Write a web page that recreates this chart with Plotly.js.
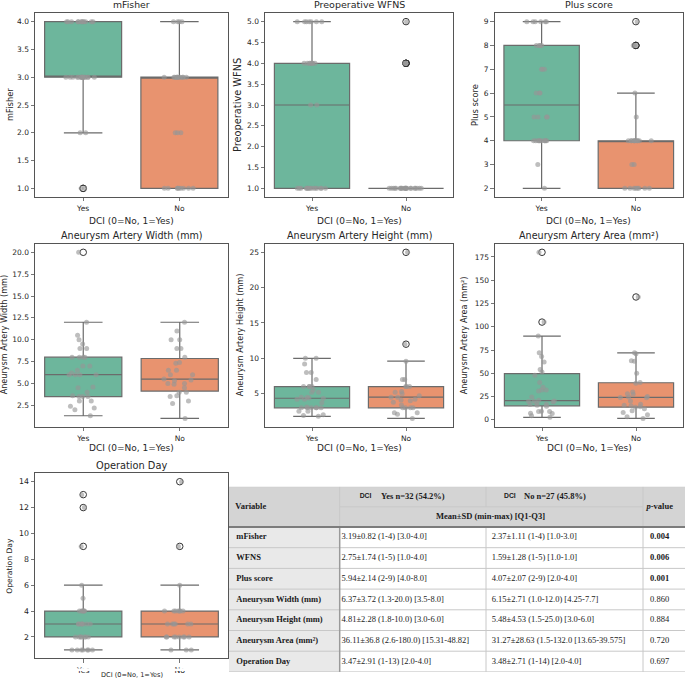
<!DOCTYPE html>
<html>
<head>
<meta charset="utf-8">
<script src="https://cdn.plot.ly/plotly-3.0.1.min.js"></script>
<style>
  html, body { margin: 0; padding: 0; background: #fff; }
  #chart { width: 685px; height: 681px; }
</style>
</head>
<body>
<div id="chart"></div>
<script>
// ---- DCI groups -------------------------------------------------------
const groups = ["Yes", "No"];
const xLabel = "DCI (0=No, 1=Yes)";

// ---- per-patient values, DCI = Yes (n=32) and DCI = No (n=27) --------
const mFisherYes = [4,4,4,4,4,4,4,4,4,4,4,4,3,3,3,3,3,3,3,3,3,3,3,3,3,3,3,3,2,2,1,1];
const mFisherNo  = [4,4,4,4,3,3,3,3,3,3,3,3,3,3,3,2,2,2,1,1,1,1,1,1,1,1,1];

const wfnsYes = [5,5,5,5,5,5,5,4,4,4,4,4,4,4,4,3,3,1,1,1,1,1,1,1,1,1,1,1,1,1,1,1];
const wfnsNo  = [5,4,4,4,4,1,1,1,1,1,1,1,1,1,1,1,1,1,1,1,1,1,1,1,1,1,1];

const plusYes = [9,9,9,9,9,9,8,8,8,8,7,7,7,6,6,6,5,5,5,5,4,4,4,4,4,4,4,4,4,4,3,2];
const plusNo  = [9,8,8,8,6,5,4,4,4,4,4,4,4,4,4,4,4,3,3,2,2,2,2,2,2,2,2];

const widthYes = [20,12,10.5,10,9.5,9,9,8,8,8,8,7,7,6.5,6.2,6,6,6,6,4.6,4.5,4,3.6,3.5,3.5,3.5,3,3,2.4,2.2,2,1.3];
const widthNo  = [12,11,10,10,9,9,8,7.4,7.3,6.5,6.5,6,6,5.5,5.4,5.3,5,5,4.9,4.5,4,4,3.6,3.5,3,2.7,1];

const heightYes = [10,10,9.2,8,8,7,6,6,6,6,5.5,5.2,5.2,4.5,4.5,4.4,4.3,4.2,4.2,3.7,3.1,3,3,3,3,3,3,2.5,2.5,2,1.9,1.8];
const heightNo  = [25,12,9.6,7,7,6,6,6,5.3,5.2,5,4.7,4.5,4.5,4.2,4.1,4,3.8,3.4,3,3,3,3,2.3,2.3,2.1,1.5];

const areaYes = [180,105,90,72,68,62,54,51.3,48,40,35,32,32,31,24.5,21,20.2,20,19.6,19,17.8,16.7,16.5,15.5,14.6,9.2,8.9,8.9,7.1,6.8,4.3,2.6];
const areaNo  = [132,72,71,63.5,63,50,40,39.15,30,28,27.4,25,24.5,24,23.8,20.3,16.7,15.6,15,13.9,13.4,12,9.6,7.8,5.3,3.2,1.5];

const opDayYes = [13,12,9,6,5,4,4,4,4,4,4,3,3,3,3,3,3,3,2,2,2,2,2,2,2,1,1,1,1,1,1,1];
const opDayNo  = [14,9,6,4,4,4,4,4,4,4,3,3,3,3,3,3,2,2,2,2,2,2,2,2,1,1,1];

const panelTitles = [
  "mFisher", "Preoperative WFNS", "Plus score",
  "Aneurysm Artery Width (mm)", "Aneurysm Artery Height (mm)", "Aneurysm Artery Area (mm²)",
  "Operation Day"
];
const yLabels = [
  "mFisher", "Preoperative WFNS", "Plus score",
  "Aneurysm Artery Width (mm)", "Aneurysm Artery Height (mm)", "Aneurysm Artery Area (mm²)",
  "Operation Day"
];
const yesSeries = [mFisherYes, wfnsYes, plusYes, widthYes, heightYes, areaYes, opDayYes];
const noSeries  = [mFisherNo,  wfnsNo,  plusNo,  widthNo,  heightNo,  areaNo,  opDayNo];

// ---- summary table ----------------------------------------------------
const tableVariables = ["mFisher", "WFNS", "Plus score", "Aneurysm Width (mm)",
  "Aneurysm Height (mm)", "Aneurysm Area (mm²)", "Operation Day"];
const tableYes = ["3.19±0.82 (1-4) [3.0-4.0]", "2.75±1.74 (1-5) [1.0-4.0]", "5.94±2.14 (2-9) [4.0-8.0]",
  "6.37±3.72 (1.3-20.0) [3.5-8.0]", "4.81±2.28 (1.8-10.0) [3.0-6.0]",
  "36.11±36.8 (2.6-180.0) [15.31-48.82]", "3.47±2.91 (1-13) [2.0-4.0]"];
const tableNo = ["2.37±1.11 (1-4) [1.0-3.0]", "1.59±1.28 (1-5) [1.0-1.0]", "4.07±2.07 (2-9) [2.0-4.0]",
  "6.15±2.71 (1.0-12.0) [4.25-7.7]", "5.48±4.53 (1.5-25.0) [3.0-6.0]",
  "31.27±28.63 (1.5-132.0 [13.65-39.575]", "3.48±2.71 (1-14) [2.0-4.0]"];
const tablePValues = ["0.004", "0.006", "0.001", "0.860", "0.884", "0.720", "0.697"];
const headerVariable = "Variable";
const headerGroupTag = "DCI";
const headerYes = "Yes n=32 (54.2%)";
const headerNo = "No n=27 (45.8%)";
const headerStat = "Mean±SD (min-max) [Q1-Q3]";
const headerP = "<i>p</i>-value";

// ---- styling ----------------------------------------------------------
const W = 685, H = 681;
const fx = p => p / W;
const fy = p => 1 - p / H;
const sans = "DejaVu Sans";
const serif = "Liberation Serif";
const ink = "#262626";
const yesFill = "#6db69c";
const noFill = "#e8936f";
const boxLine = "#6b6b6b";
const frame = "#555555";

// subplot frames in pixels: [left, right], [top, bottom]
const frames = [
  { x: [35, 227.5], y: [13.3, 196.7] },
  { x: [265, 453],  y: [13.3, 196.7] },
  { x: [494.5, 683], y: [13.3, 196.7] },
  { x: [35, 228],   y: [244, 426.7] },
  { x: [265, 453],  y: [244, 426.7] },
  { x: [495, 683],  y: [244, 426.7] },
  { x: [35, 228],   y: [473.3, 658.3] }
];
const yAxisCfg = [
  { range: [0.85, 4.15], tick0: 1, dtick: 0.5, tickformat: ".1f" },
  { range: [0.8, 5.2], tick0: 1, dtick: 0.5, tickformat: ".1f" },
  { range: [1.65, 9.35], tick0: 2, dtick: 1, tickformat: "d" },
  { range: [0.05, 20.95], tick0: 2.5, dtick: 2.5, tickformat: ".1f" },
  { range: [0.325, 26.175], tick0: 0, dtick: 5, tickformat: "d" },
  { range: [-7.425, 188.925], tick0: 0, dtick: 25, tickformat: "d" },
  { range: [0.35, 14.65], tick0: 0, dtick: 2, tickformat: "d" }
];
// text placement per subplot: title centre y, x-label centre y, y-label centre x, font sizes
const textCfg = [
  { t: 5,     xl: 220.7, yl: 10,  ts: 9.3, xs: 9,   ys: 8.3, tk: 7.5 },
  { t: 5,     xl: 220.7, yl: 238, ts: 9.5, xs: 9,   ys: 9.8, tk: 7.5 },
  { t: 5,     xl: 220.7, yl: 475, ts: 9.5, xs: 9,   ys: 8.3, tk: 7.5 },
  { t: 235,   xl: 448,   yl: 4,   ts: 9.6, xs: 9,   ys: 8.1, tk: 7.5 },
  { t: 235,   xl: 448,   yl: 240, ts: 9.6, xs: 9,   ys: 8.1, tk: 7.5 },
  { t: 235,   xl: 448,   yl: 464, ts: 9.6, xs: 9,   ys: 8.1, tk: 7.5 },
  { t: 465.7, xl: 675,   yl: 10,  ts: 9.8, xs: 6.6, ys: 7.6, tk: 7.8 }
];

const traces = [];
const layout = {
  width: W, height: H,
  margin: { l: 0, r: 0, t: 0, b: 0 },
  paper_bgcolor: "#fff", plot_bgcolor: "#fff",
  showlegend: false,
  boxmode: "overlay",
  font: { family: sans, color: ink },
  annotations: [],
  shapes: []
};

frames.forEach((f, i) => {
  const n = i === 0 ? "" : String(i + 1);
  const xa = "x" + n, ya = "y" + n;
  const cfg = textCfg[i];

  // boxes with flier circles
  [[yesSeries[i], groups[0], yesFill], [noSeries[i], groups[1], noFill]].forEach(([vals, g, col]) => {
    traces.push({
      type: "box", y: vals, x0: g, xaxis: xa, yaxis: ya,
      width: 0.8, whiskerwidth: 0.5,
      fillcolor: col, line: { color: boxLine, width: 1.2 },
      boxpoints: "outliers", pointpos: 0, jitter: 0,
      marker: { symbol: "circle-open", size: 6.5, color: "#333333", line: { width: 1 } },
      hoverinfo: "skip"
    });
  });
  // jittered strip of every observation
  [[yesSeries[i], groups[0]], [noSeries[i], groups[1]]].forEach(([vals, g]) => {
    traces.push({
      type: "box", y: vals, x0: g, xaxis: xa, yaxis: ya,
      width: 0.8,
      fillcolor: "rgba(0,0,0,0)", line: { color: "rgba(0,0,0,0)", width: 0 },
      boxpoints: "all", pointpos: 0, jitter: 0.46,
      marker: { color: "rgba(150,150,150,0.62)", size: 5, line: { width: 0 } },
      hoverinfo: "skip"
    });
  });

  const axisCommon = {
    showline: true, mirror: true, linecolor: frame, linewidth: 1,
    ticks: "outside", ticklen: 3.5, tickwidth: 0.8, tickcolor: frame,
    showgrid: false, zeroline: false,
    tickfont: { family: sans, size: cfg.tk, color: ink }
  };
  layout["xaxis" + n] = Object.assign({}, axisCommon, {
    type: "category", categoryorder: "array", categoryarray: groups,
    range: [-0.5, 1.5], anchor: ya,
    domain: [fx(f.x[0]), fx(f.x[1])], ticklabelstandoff: 1
  });
  layout["yaxis" + n] = Object.assign({}, axisCommon, {
    range: yAxisCfg[i].range, tick0: yAxisCfg[i].tick0, dtick: yAxisCfg[i].dtick,
    tickformat: yAxisCfg[i].tickformat, anchor: xa,
    domain: [fy(f.y[1]), fy(f.y[0])]
  });

  const cx = fx((f.x[0] + f.x[1]) / 2);
  layout.annotations.push(
    { text: panelTitles[i], xref: "paper", yref: "paper", x: cx, y: fy(cfg.t),
      xanchor: "center", yanchor: "middle", showarrow: false,
      font: { family: sans, size: cfg.ts, color: ink } },
    { text: xLabel, xref: "paper", yref: "paper", x: cx, y: fy(cfg.xl),
      xanchor: "center", yanchor: "middle", showarrow: false,
      font: { family: sans, size: cfg.xs, color: ink } },
    { text: yLabels[i], xref: "paper", yref: "paper", x: fx(cfg.yl),
      y: fy((f.y[0] + f.y[1]) / 2), textangle: -90,
      xanchor: "center", yanchor: "middle", showarrow: false,
      font: { family: sans, size: cfg.ys, color: ink } }
  );
});

// band under the last subplot's tick labels, where its axis title sits
layout.shapes.push({
  type: "rect", xref: "paper", yref: "paper", layer: "above",
  x0: fx(36), x1: fx(227), y0: fy(671), y1: fy(668.6),
  fillcolor: "#fff", line: { width: 0 }
});

// ---- table, laid out on its own hidden pixel-unit axes -----------------
const tblLeftPx = 229, tblTopPx = 486.7;
const colEdges = [0, 110.7, 257, 414, 456];
const hdrRowH = 20.15, bodyRowH = 20.7;
const nBody = tableVariables.length;
const hdrH = 2 * hdrRowH;
const tblH = hdrH + nBody * bodyRowH;
const rowMid = k => hdrH + (k + 0.5) * bodyRowH;
const hdrFill = "#d4d4d4", varFill = "#e9e9e9", gridLine = "#c8c8c8";

layout.xaxis8 = { domain: [fx(tblLeftPx), 1], range: [0, colEdges[4]], visible: false, fixedrange: true };
layout.yaxis8 = { domain: [fy(tblTopPx + tblH), fy(tblTopPx)], range: [tblH, 0], visible: false, fixedrange: true };

const tRect = (x0, x1, y0, y1, fill) => ({
  type: "rect", xref: "x8", yref: "y8", layer: "below",
  x0, x1, y0, y1, fillcolor: fill, line: { width: 0 }
});
const tLine = (x0, x1, y0, y1, color, width) => ({
  type: "line", xref: "x8", yref: "y8", layer: "below",
  x0, x1, y0, y1, line: { color, width }
});

// cell fills
layout.shapes.push(
  tRect(colEdges[0], colEdges[4], 0, hdrH, hdrFill),
  tRect(colEdges[0], colEdges[1], hdrH, tblH, varFill)
);
// grid
layout.shapes.push(
  tLine(colEdges[0], colEdges[4], 0, 0, gridLine, 1),
  tLine(colEdges[1], colEdges[3], hdrRowH, hdrRowH, gridLine, 1),
  tLine(colEdges[1], colEdges[1], 0, hdrH, gridLine, 1),
  tLine(colEdges[2], colEdges[2], 0, hdrRowH, gridLine, 1),
  tLine(colEdges[3], colEdges[3], 0, tblH, gridLine, 1),
  tLine(colEdges[2], colEdges[2], hdrH, tblH, gridLine, 1)
);
for (let k = 1; k <= nBody; k++) {
  const yb = hdrH + k * bodyRowH;
  layout.shapes.push(tLine(colEdges[0], colEdges[4], yb, yb, gridLine, 1));
}
layout.shapes.push(
  tLine(colEdges[1], colEdges[1], hdrH, tblH, "#9a9a9a", 1.5),
  tLine(colEdges[0], colEdges[4], hdrH, hdrH, "#7c7c7c", 2)
);

const tblFont = { family: serif, size: 8.5, color: "#1a1a1a" };
const textTrace = (xs, ys, texts, pos, font) => ({
  type: "scatter", mode: "text", xaxis: "x8", yaxis: "y8",
  x: xs, y: ys, text: texts, textposition: pos,
  textfont: font || tblFont, hoverinfo: "skip", cliponaxis: false
});
const bodyY = tableVariables.map((_, k) => rowMid(k));

traces.push(
  // header
  textTrace([6.3], [hdrRowH], ["<b>" + headerVariable + "</b>"], "middle right"),
  textTrace([417.5], [hdrRowH], ["<b>" + headerP + "</b>"], "middle right"),
  textTrace([130.7, 275], [hdrRowH / 2, hdrRowH / 2], [headerGroupTag, headerGroupTag], "middle right",
    { family: "Liberation Sans", size: 6.8, color: "#1a1a1a", weight: "bold" }),
  textTrace([152, 295], [hdrRowH / 2, hdrRowH / 2],
    ["<b>" + headerYes + "</b>", "<b>" + headerNo + "</b>"], "middle right"),
  textTrace([261.5], [hdrRowH * 1.5], ["<b>" + headerStat + "</b>"], "middle center"),
  // body
  textTrace(bodyY.map(() => 7.3), bodyY, tableVariables.map(v => "<b>" + v + "</b>"), "middle right"),
  textTrace(bodyY.map(() => 112.5), bodyY, tableYes, "middle right"),
  textTrace(bodyY.map(() => 262.7), bodyY, tableNo, "middle right"),
  textTrace(bodyY.map(() => 421), bodyY,
    tablePValues.map(p => parseFloat(p) < 0.05 ? "<b>" + p + "</b>" : p), "middle right")
);

Plotly.newPlot("chart", traces, layout, { staticPlot: true, displayModeBar: false });
</script>
</body>
</html>
